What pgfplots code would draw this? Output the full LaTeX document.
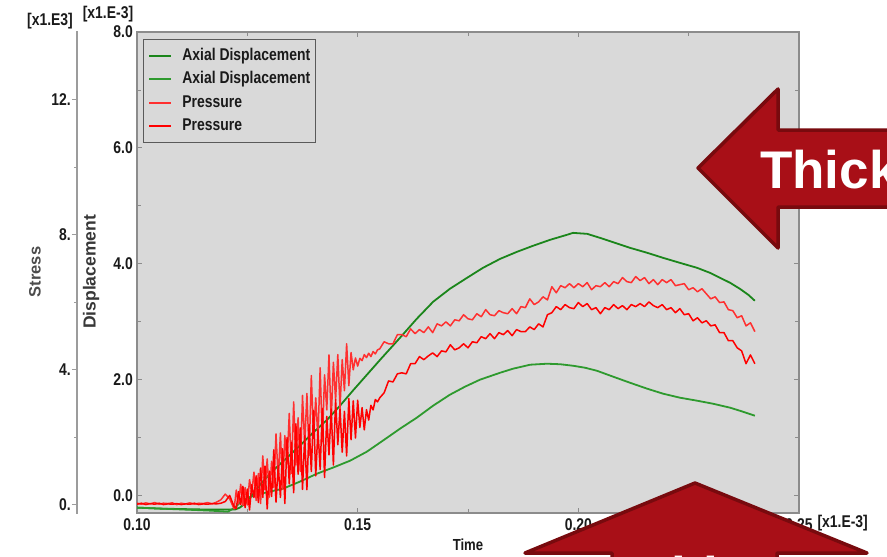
\documentclass[border=0pt]{standalone}
\usepackage{pgfplots}
\pgfplotsset{compat=1.18}
\usepackage{pgfplotstable}
\usepackage{fontspec}
\setmainfont{Liberation Sans}
\newfontfamily\nb{Liberation Sans}[FakeStretch=0.82]
\definecolor{bggray}{HTML}{D9D9D9}
\definecolor{framegray}{HTML}{8C8C8C}
\definecolor{legendgray}{HTML}{5A5A5A}
\definecolor{stressgray}{HTML}{9C9C9C}
\definecolor{greenA}{HTML}{1B861B}
\definecolor{greenB}{HTML}{2E9A2E}
\definecolor{redA}{HTML}{FF3030}
\definecolor{redB}{HTML}{FF0000}
\definecolor{arrowfill}{HTML}{A80F17}
\definecolor{arrowedge}{HTML}{780A0E}
\definecolor{txt}{HTML}{1A1A1A}
\newcommand{\cf}{\nb\bfseries\fontsize{17}{17}\selectfont}

\pgfplotstableread{
t p1 p2
0.100 0.05 0.02
0.101 0.02 0.05
0.102 0.06 0.01
0.103 0.03 0.04
0.104 0.07 0.02
0.105 0.02 0.05
0.106 0.05 0.01
0.107 0.04 0.03
0.108 0.06 0.02
0.109 0.01 0.04
0.110 0.05 0.01
0.111 0.03 0.03
0.112 0.06 0.02
0.113 0.02 0.05
0.114 0.05 0.01
0.115 0.04 0.03
0.116 0.07 0.02
0.117 0.03 0.04
0.118 0.08 0.03
0.119 0.15 0.05
0.120 0.32 0.10
0.121 0.18 0.28
0.122 -0.12 -0.05
0.1225 0.44 -0.11
0.1230 0.03 0.39
0.1235 0.61 0.01
0.1240 -0.02 0.55
0.1245 0.51 -0.08
0.1250 0.00 0.47
0.1255 0.75 -0.15
0.1260 0.34 0.60
0.1265 0.97 0.22
0.1270 0.13 0.86
0.1275 0.93 0.07
0.1280 0.04 1.09
0.1285 1.45 0.22
0.1290 0.45 1.15
0.1295 1.36 -0.12
0.1300 0.23 1.00
0.1305 1.29 0.25
0.1310 0.52 1.63
0.1315 2.10 0.08
0.1320 0.75 1.16
0.1325 2.13 0.22
0.1330 0.46 1.66
0.1335 2.05 0.04
0.1340 1.21 1.99
0.1345 2.71 0.62
0.1350 0.93 1.85
0.1355 3.05 0.36
0.1360 1.18 2.40
0.1365 2.58 0.91
0.1370 0.99 2.28
0.1375 3.24 0.46
0.1380 1.77 2.05
0.1385 3.30 0.45
0.1390 1.46 2.37
0.1395 3.83 0.99
0.1400 2.00 2.80
0.1405 3.17 0.86
0.1410 1.94 2.22
0.1415 4.06 1.05
0.1420 1.87 2.85
0.1425 3.85 0.81
0.1430 2.81 2.62
0.1435 4.44 1.48
0.1440 2.49 2.84
0.1445 4.22 1.18
0.1450 3.10 3.12
0.1455 4.45 1.78
0.1460 2.88 2.85
0.1465 4.30 1.56
0.1470 3.38 2.77
0.1475 4.77 1.45
0.1480 3.53 3.15
0.1485 4.51 1.93
0.1490 4.00 3.08
0.1495 4.35 1.98
0.1500 4.11 3.10
0.1505 4.34 2.29
0.1510 4.27 2.88
0.1515 4.45 2.22
0.1520 4.36 2.82
0.1525 4.49 2.51
0.1530 4.39 2.95
0.1535 4.54 2.81
0.1540 4.47 3.12
0.1545 4.59 3.05
0.155 4.62 3.17
0.156 4.83 3.32
0.157 4.77 3.67
0.158 4.77 3.64
0.159 5.04 3.88
0.160 5.04 3.91
0.161 4.98 3.88
0.162 5.21 4.18
0.163 5.07 4.18
0.164 5.19 4.39
0.165 5.10 4.30
0.166 5.27 4.41
0.167 5.10 4.50
0.168 5.36 4.39
0.169 5.30 4.56
0.170 5.42 4.53
0.171 5.30 4.74
0.172 5.48 4.59
0.173 5.45 4.65
0.174 5.63 4.77
0.175 5.51 4.65
0.176 5.48 4.83
0.177 5.66 4.80
0.178 5.57 4.98
0.179 5.78 4.92
0.180 5.63 5.07
0.181 5.60 4.92
0.182 5.75 5.10
0.183 5.69 5.04
0.184 5.66 5.16
0.185 5.81 5.01
0.186 5.66 5.19
0.187 5.87 5.13
0.188 5.84 5.13
0.189 6.10 5.27
0.190 5.93 5.19
0.191 6.01 5.36
0.192 6.16 5.27
0.193 6.07 5.63
0.194 6.46 5.69
0.195 6.28 5.87
0.196 6.49 5.78
0.197 6.43 5.93
0.198 6.55 5.84
0.199 6.43 5.81
0.200 6.55 5.99
0.201 6.46 5.87
0.202 6.58 5.96
0.203 6.37 5.78
0.204 6.49 5.84
0.205 6.46 5.66
0.206 6.58 5.84
0.207 6.46 5.78
0.208 6.61 5.93
0.209 6.55 5.81
0.210 6.73 5.90
0.211 6.61 5.78
0.212 6.58 5.93
0.213 6.76 5.87
0.214 6.64 5.96
0.215 6.73 5.87
0.216 6.55 6.01
0.217 6.67 5.90
0.218 6.52 5.84
0.219 6.67 5.93
0.220 6.58 5.78
0.221 6.67 5.84
0.222 6.49 5.69
0.223 6.52 5.81
0.224 6.55 5.63
0.225 6.37 5.66
0.226 6.43 5.45
0.227 6.31 5.54
0.228 6.40 5.39
0.229 6.25 5.45
0.230 6.10 5.30
0.231 6.16 5.33
0.232 5.99 5.10
0.233 6.01 5.10
0.234 5.78 4.86
0.235 5.75 4.86
0.236 5.54 4.65
0.237 5.60 4.56
0.238 5.30 4.18
0.239 5.39 4.44
0.240 5.13 4.18
}\redtab

\pgfplotstableread{
t d
0.1000 -0.207
0.1052 -0.224
0.1109 -0.233
0.1165 -0.241
0.1199 -0.241
0.1222 -0.241
0.1233 -0.207
0.1245 -0.138
0.1256 -0.034
0.1283 0.224
0.1308 0.431
0.1340 0.655
0.1369 0.862
0.1399 1.086
0.1431 1.310
0.1460 1.552
0.1489 1.810
0.1521 2.086
0.1551 2.345
0.1596 2.724
0.1634 3.052
0.1671 3.345
0.1709 3.569
0.1748 3.759
0.1784 3.931
0.1823 4.086
0.1861 4.207
0.1897 4.310
0.1936 4.414
0.1974 4.500
0.1988 4.534
0.2020 4.517
0.2049 4.448
0.2083 4.362
0.2117 4.276
0.2156 4.190
0.2192 4.103
0.2230 4.017
0.2269 3.931
0.2298 3.845
0.2321 3.759
0.2344 3.672
0.2366 3.569
0.2385 3.466
0.2400 3.362
}\greenone

\pgfplotstableread{
t d
0.1000 -0.207
0.1052 -0.224
0.1109 -0.241
0.1165 -0.259
0.1206 -0.276
0.1222 -0.207
0.1240 -0.069
0.1272 0.017
0.1301 0.069
0.1331 0.121
0.1369 0.241
0.1408 0.379
0.1444 0.483
0.1483 0.603
0.1521 0.759
0.1557 0.948
0.1596 1.155
0.1634 1.345
0.1671 1.552
0.1709 1.741
0.1743 1.879
0.1777 2.000
0.1823 2.121
0.1852 2.190
0.1891 2.259
0.1929 2.276
0.1959 2.267
0.1988 2.241
0.2015 2.207
0.2042 2.155
0.2079 2.052
0.2117 1.948
0.2156 1.845
0.2192 1.759
0.2230 1.690
0.2269 1.638
0.2305 1.586
0.2344 1.517
0.2373 1.448
0.2400 1.379
}\greentwo

\begin{document}
\begin{tikzpicture}
\useasboundingbox (0,0) rectangle (887pt,-557pt);
\clip (0,0) rectangle (887pt,-557pt);
\fill[white] (0,0) rectangle (887pt,-557pt);

% main axis (displacement)
\begin{axis}[
  at={(137pt,-513pt)}, anchor=south west,
  scale only axis, width=662pt, height=481pt,
  xmin=0.1, xmax=0.25, ymin=-0.3, ymax=8.0,
  axis background/.style={fill=bggray},
  axis line style={draw=framegray, line width=1.3pt},
  xtick={0.1,0.15,0.2,0.25}, xticklabels={0.10,0.15,0.20,0.25},
  minor xtick={0.125,0.175,0.225},
  ytick={0,2,4,6,8}, yticklabels={0.0,2.0,4.0,6.0,8.0},
  minor ytick={1,3,5,7},
  tick align=inside, major tick length=5pt, minor tick length=4pt,
  tick style={draw=framegray, line width=0.9pt},
  xticklabel style={font=\cf, text=txt, inner sep=0pt, yshift=-5pt},
  yticklabel style={font=\cf, text=txt, inner sep=0pt, xshift=-4pt},
  legend image code/.code={\draw[#1, line width=2pt] (0pt,0pt) -- (22pt,0pt);},
  legend style={at={(0.009,0.985)}, anchor=north west, draw=legendgray, fill=bggray,
    line width=0.8pt, inner xsep=5pt, inner ysep=8.5pt, row sep=8.5pt, column sep=10pt,
    font=\cf, text=txt,
    nodes={inner sep=0pt, text height=12pt, text depth=3pt}},
  legend cell align=left,
]
\addplot[greenA, line width=1.8pt, line join=round] table[x=t, y=d] {\greenone};
\addlegendentry{Axial Displacement}
\addplot[greenB, line width=1.8pt, line join=round] table[x=t, y=d] {\greentwo};
\addlegendentry{Axial Displacement}
\addlegendimage{redA, line width=1.8pt}
\addlegendentry{Pressure}
\addlegendimage{redB, line width=1.8pt}
\addlegendentry{Pressure}
\end{axis}

% pressure curves on the stress scale
\begin{axis}[
  at={(137pt,-513pt)}, anchor=south west,
  scale only axis, width=662pt, height=481pt,
  xmin=0.1, xmax=0.25, ymin=-0.24, ymax=14.0,
  axis lines=none, ticks=none,
]
\addplot[redA, line width=1.5pt, line join=round] table[x=t, y=p1] {\redtab};
\addplot[redB, line width=1.5pt, line join=round] table[x=t, y=p2] {\redtab};
\end{axis}

% stress axis (a zero-width box axis: both vertical sides coincide)
\begin{axis}[
  at={(77pt,-513pt)}, anchor=south west,
  scale only axis, width=0.05pt, height=481pt,
  xmin=0, xmax=1, ymin=-0.24, ymax=14.0,
  x axis line style={draw=none},
  y axis line style={draw=stressgray, line width=2.2pt},
  xtick=\empty,
  ytick={0,4,8,12}, yticklabels={0.,4.,8.,12.},
  minor ytick={2,6,10}, ytick pos=left,
  tick align=outside, major tick length=5pt, minor tick length=2.5pt,
  tick style={draw=stressgray, line width=1pt},
  yticklabel style={font=\cf, text=txt, inner sep=0pt, xshift=-1pt},
]
\end{axis}

% axis titles and units
\node[font=\cf, text=txt] at (50pt,-21pt) {[x1.E3]};
\node[font=\cf, text=txt] at (108pt,-14pt) {[x1.E-3]};
\node[font=\cf, text=txt, anchor=west] at (814pt,-523pt) {[x1.E-3]};
\node[font={\nb\bfseries\fontsize{16}{16}\selectfont}, text=txt] at (468pt,-545pt) {Time};
\node[font={\bfseries\fontsize{16.5}{16.5}\selectfont}, text=black!70, rotate=90] at (35pt,-272pt) {Stress};
\node[font={\bfseries\fontsize{17.5}{17.5}\selectfont}, text=black!78, rotate=90] at (91pt,-272pt) {Displacement};

% annotation arrows
\draw[fill=arrowfill, draw=arrowedge, line width=3.5pt, line join=round]
  (698pt,-168pt) -- (778pt,-89pt) -- (778pt,-130pt) -- (905pt,-130pt) -- (905pt,-207pt)
  -- (778pt,-207pt) -- (778pt,-248pt) -- cycle;
\node[font={\bfseries\fontsize{53}{53}\selectfont}, text=white, anchor=base west, inner sep=0pt]
  at (760pt,-188pt) {Thick};
\draw[fill=arrowfill, draw=arrowedge, line width=3.5pt, line join=round]
  (695pt,-483pt) -- (867pt,-553pt) -- (777pt,-553pt) -- (777pt,-620pt) -- (612pt,-620pt)
  -- (612pt,-553pt) -- (525pt,-553pt) -- cycle;
\node[font={\bfseries\fontsize{53}{53}\selectfont}, text=white, anchor=base, inner sep=0pt]
  at (695pt,-594pt) {Thin};
\end{tikzpicture}
\end{document}
